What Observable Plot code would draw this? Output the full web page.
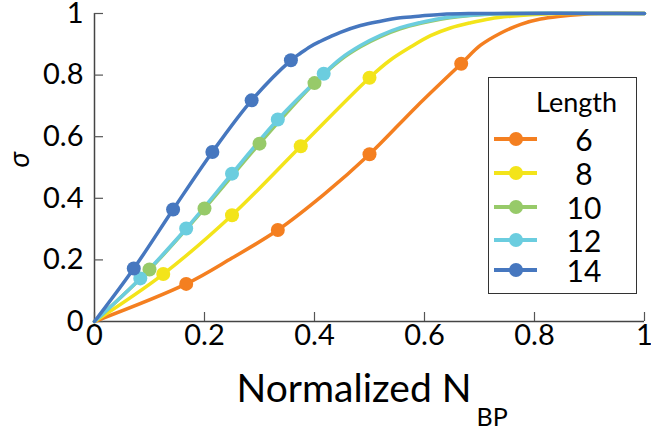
<!DOCTYPE html>
<html>
<head>
<meta charset="utf-8">
<script src="https://cdn.jsdelivr.net/npm/d3@7"></script>
<script src="https://cdn.jsdelivr.net/npm/@observablehq/plot@0.6"></script>
<style>
  body { margin: 0; background: #fff; }
  #wrap { position: relative; width: 651px; height: 431px; font-family: Lato, "Liberation Sans", sans-serif; }
  #legend { position: absolute; left: 488px; top: 77px; width: 147px; height: 215px; border: 1.5px solid #333; background: #fff; }
  #legend .title { position: absolute; left: 47px; top: 10px; font-size: 27px; line-height: 28px; color: #000; }
  #legend .row { position: absolute; left: 0; width: 147px; height: 28px; }
  #legend .row svg { position: absolute; left: 4px; top: 0; }
  #legend .row span { position: absolute; left: 70px; width: 50px; text-align: center; top: 0; font-size: 30px; line-height: 28px; color: #000; }
</style>
</head>
<body>
<div id="wrap"></div>
<script>
// ---- data ----
const lengths = [6, 8, 10, 12, 14];
const colors = ["#f47f20", "#f3e41a", "#97ca69", "#6bcddf", "#4677bf"];

const xTicks = [0, 0.2, 0.4, 0.6, 0.8, 1];
const xTickLabels = ["0", "0.2", "0.4", "0.6", "0.8", "1"];
const yTicks = [0, 0.2, 0.4, 0.6, 0.8, 1];
const yTickLabels = ["0", "0.2", "0.4", "0.6", "0.8", "1"];

// curve samples (x, sigma)
const curveX6  = [0, 0.1667, 0.25, 0.3333, 0.4167, 0.5, 0.5867, 0.6667, 0.702, 0.738, 0.775, 0.811, 0.847, 0.884, 0.92, 1];
const curveY6  = [0, 0.122, 0.206, 0.297, 0.412, 0.543, 0.700, 0.837, 0.897, 0.936, 0.965, 0.982, 0.991, 0.997, 1, 1];
const curveX8  = [0, 0.125, 0.25, 0.375, 0.5, 0.538, 0.5745, 0.611, 0.647, 0.684, 0.72, 0.757, 0.793, 0.83, 0.87, 1];
const curveY8  = [0, 0.154, 0.345, 0.569, 0.7915, 0.849, 0.891, 0.928, 0.953, 0.970, 0.983, 0.991, 0.996, 0.999, 1, 1];
const curveX10 = [0, 0.1, 0.2, 0.3, 0.4, 0.447, 0.4836, 0.52, 0.556, 0.593, 0.629, 0.665, 0.702, 0.75, 1];
const curveY10 = [0, 0.169, 0.367, 0.5775, 0.774, 0.849, 0.892, 0.925, 0.950, 0.968, 0.981, 0.990, 0.996, 1, 1];
const curveX12 = [0, 0.0833, 0.1667, 0.25, 0.3333, 0.4167, 0.447, 0.4836, 0.52, 0.556, 0.593, 0.629, 0.665, 0.702, 0.75, 1];
const curveY12 = [0, 0.140, 0.302, 0.480, 0.656, 0.8045, 0.853, 0.896, 0.929, 0.954, 0.971, 0.984, 0.992, 0.997, 1, 1];
const curveX14 = [0, 0.0714, 0.1429, 0.2143, 0.2857, 0.3571, 0.3745, 0.3927, 0.411, 0.429, 0.447, 0.4836, 0.52, 0.556, 0.593, 0.629, 0.68, 1];
const curveY14 = [0, 0.172, 0.3636, 0.5505, 0.718, 0.848, 0.871, 0.893, 0.910, 0.925, 0.939, 0.961, 0.975, 0.986, 0.992, 0.997, 1, 1];

// marker points (x, sigma)
const dotX6  = [0.1667, 0.3333, 0.5, 0.6667];
const dotY6  = [0.122, 0.297, 0.543, 0.837];
const dotX8  = [0.125, 0.25, 0.375, 0.5];
const dotY8  = [0.154, 0.345, 0.569, 0.7915];
const dotX10 = [0.1, 0.2, 0.3, 0.4];
const dotY10 = [0.169, 0.367, 0.5775, 0.774];
const dotX12 = [0.0833, 0.1667, 0.25, 0.3333, 0.4167];
const dotY12 = [0.140, 0.302, 0.480, 0.656, 0.8045];
const dotX14 = [0.0714, 0.1429, 0.2143, 0.2857, 0.3571];
const dotY14 = [0.172, 0.3636, 0.5505, 0.718, 0.848];

// ---- build tables ----
const curveXs = [curveX6, curveX8, curveX10, curveX12, curveX14];
const curveYs = [curveY6, curveY8, curveY10, curveY12, curveY14];
const dotXs = [dotX6, dotX8, dotX10, dotX12, dotX14];
const dotYs = [dotY6, dotY8, dotY10, dotY12, dotY14];

const curves = lengths.flatMap((L, i) => curveXs[i].map((x, j) => ({L: String(L), x, y: curveYs[i][j]})));
const dots = lengths.flatMap((L, i) => dotXs[i].map((x, j) => ({L: String(L), x, y: dotYs[i][j]})));

const font = "Lato, 'Liberation Sans', sans-serif";

const chart = Plot.plot({
  width: 651,
  height: 431,
  marginLeft: 94,
  marginRight: 7,
  marginTop: 13,
  marginBottom: 110,
  style: {fontFamily: font, background: "#fff", overflow: "visible"},
  x: {domain: [0, 1]},
  y: {domain: [0, 1]},
  color: {domain: lengths.map(String), range: colors},
  marks: [
    Plot.ruleY([0], {stroke: "#444", strokeWidth: 1.5}),
    Plot.ruleX([0], {stroke: "#444", strokeWidth: 1.5}),
    Plot.axisX({ticks: xTicks, tickFormat: (d, i) => xTickLabels[i], tickSize: -9, tickPadding: 12,
      fontSize: 29, stroke: "#555", fill: "#000", strokeWidth: 1.2, label: null}),
    Plot.axisY({ticks: yTicks, tickFormat: (d, i) => yTickLabels[i], tickSize: -9, tickPadding: 20,
      fontSize: 29, stroke: "#555", fill: "#000", strokeWidth: 1.2, label: null}),
    ...lengths.map(L => Plot.line(curves.filter(d => d.L === String(L)),
      {x: "x", y: "y", stroke: "L", strokeWidth: 3.5, curve: "catmull-rom"})),
    ...lengths.map(L => Plot.dot(dots.filter(d => d.L === String(L)),
      {x: "x", y: "y", fill: "L", r: 7, stroke: "none"})),
    Plot.text(["Normalized N"], {frameAnchor: "bottom", textAnchor: "end", lineAnchor: "bottom",
      dx: 102, dy: 80, fontSize: 39, fill: "#000"}),
    Plot.text(["BP"], {frameAnchor: "bottom", textAnchor: "start", lineAnchor: "bottom",
      dx: 107, dy: 104, fontSize: 25, fill: "#000"}),
    Plot.text(["σ"], {frameAnchor: "left", dx: -74, rotate: -90, fontSize: 28, fontStyle: "italic", fill: "#000"})
  ]
});

const wrap = document.getElementById("wrap");
wrap.appendChild(chart);

// legend
const rowTops = [47, 81, 115, 148, 178];
const legend = document.createElement("div");
legend.id = "legend";
legend.innerHTML = `<div class="title">Length</div>` + lengths.map((L, i) => {
  return `<div class="row" style="top:${rowTops[i]}px">
    <svg width="50" height="28"><line x1="1" x2="44" y1="14" y2="14" stroke="${colors[i]}" stroke-width="4"/>
    <circle cx="23" cy="14" r="7" fill="${colors[i]}"/></svg>
    <span>${L}</span></div>`;
}).join("");
wrap.appendChild(legend);
</script>
</body>
</html>
